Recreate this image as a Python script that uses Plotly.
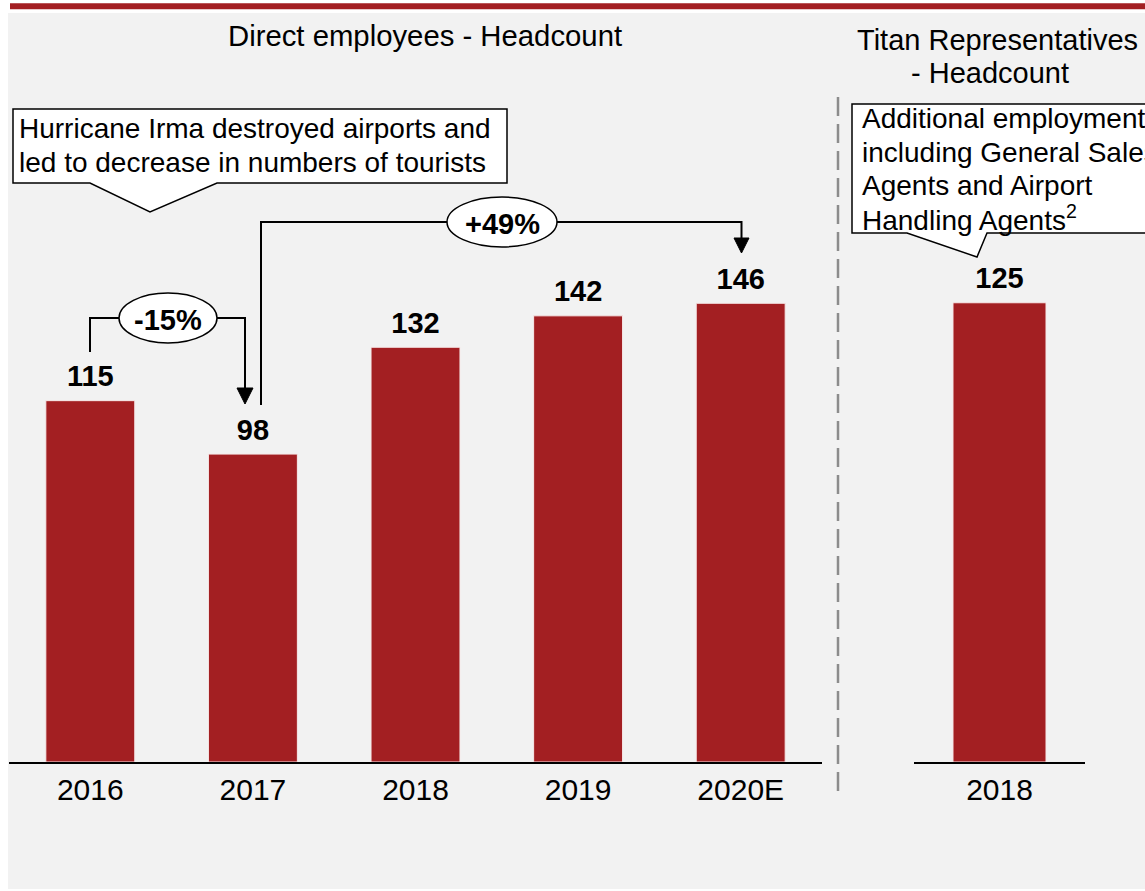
import plotly.graph_objects as go

W, H = 1145, 891

# ---- data ----
direct_years = ["2016", "2017", "2018", "2019", "2020E"]
direct_headcount = [115, 98, 132, 142, 146]
rep_years = ["2018"]
rep_headcount = [125]
change_labels = ["-15%", "+49%"]
panel_titles = ["Direct employees - Headcount", "Titan Representatives", "- Headcount"]
note_irma = ["Hurricane Irma destroyed airports and", "led to decrease in numbers of tourists"]
note_reps = ["Additional employment", "including General Sales", "Agents and Airport",
             "Handling Agents<sup>2</sup>"]


def px(x):
    return x / W


def py(y):
    return 1 - y / H


FONT = "Liberation Sans, Arial, sans-serif"
RED = "#a31f22"
BLACK = "#000000"

fig = go.Figure()
fig.add_trace(go.Bar(
    x=direct_years, y=direct_headcount, width=0.547,
    marker=dict(color=RED, line=dict(color="#f7e9e9", width=1)),
    cliponaxis=False, xaxis="x", yaxis="y", hoverinfo="skip"))
fig.add_trace(go.Bar(
    x=rep_years, y=rep_headcount, width=0.544,
    marker=dict(color=RED, line=dict(color="#f7e9e9", width=1)),
    cliponaxis=False, xaxis="x2", yaxis="y2", hoverinfo="skip"))
# value labels above bars (invisible markers give the offset above the bar top)
for xs, ys, xa, ya in [(direct_years, direct_headcount, "x", "y"), (rep_years, rep_headcount, "x2", "y2")]:
    fig.add_trace(go.Scatter(
        x=xs, y=ys, mode="markers+text", text=[f"<b>{v}</b>" for v in ys],
        marker=dict(size=10, color="rgba(0,0,0,0)"),
        textposition="top center", textfont=dict(size=29, color=BLACK, family=FONT),
        cliponaxis=False, xaxis=xa, yaxis=ya, hoverinfo="skip"))

ydom = [py(762), py(100)]
axis_common = dict(showgrid=False, zeroline=False, showline=True, linecolor=BLACK, linewidth=2,
                   ticks="", tickfont=dict(size=30, color=BLACK, family=FONT), fixedrange=True)
fig.update_layout(
    width=W, height=H, margin=dict(l=0, r=0, t=0, b=0),
    paper_bgcolor="#ffffff", plot_bgcolor="rgba(0,0,0,0)",
    showlegend=False, font=dict(family=FONT, color=BLACK),
    xaxis=dict(domain=[px(9), px(822)], anchor="y", type="category", **axis_common),
    yaxis=dict(domain=ydom, range=[0, 662 / 3.142], visible=False, fixedrange=True),
    xaxis2=dict(domain=[px(914), px(1085)], anchor="y2", type="category", **axis_common),
    yaxis2=dict(domain=ydom, range=[0, 662 / 3.674], visible=False, fixedrange=True),
)

shapes = []
# background panel
shapes.append(dict(type="rect", xref="paper", yref="paper", x0=px(8), x1=px(1146), y0=py(889), y1=py(13),
                   fillcolor="#f2f2f2", line=dict(width=0), layer="below"))
# top red rule
shapes.append(dict(type="rect", xref="paper", yref="paper", x0=px(10), x1=px(1146), y0=py(9.3), y1=py(3.3),
                   fillcolor=RED, line=dict(width=0), layer="below"))
# dashed divider
shapes.append(dict(type="line", xref="paper", yref="paper", x0=px(838), x1=px(838), y0=py(97), y1=py(797),
                   line=dict(color="#8c8c8c", width=2.5, dash="19px,8px")))


def path(points):
    return "M " + " L ".join(f"{px(x)},{py(y)}" for x, y in points)


def pathz(points):
    return path(points) + " Z"


# callout box 1
shapes.append(dict(type="path", xref="paper", yref="paper",
                   path=pathz([(13, 109), (507, 109), (507, 183), (217, 183), (150, 212), (90, 183), (13, 183)]),
                   fillcolor="#ffffff", line=dict(color=BLACK, width=1.5)))
# callout box 2
shapes.append(dict(type="path", xref="paper", yref="paper",
                   path=pathz([(852, 104), (1150, 104), (1150, 233), (987, 233), (977, 257), (907, 233), (852, 233)]),
                   fillcolor="#ffffff", line=dict(color=BLACK, width=1.5)))

# -15% bracket
shapes.append(dict(type="path", xref="paper", yref="paper",
                   path=path([(90, 352), (90, 318), (245, 318), (245, 390)]),
                   line=dict(color=BLACK, width=2)))
shapes.append(dict(type="path", xref="paper", yref="paper",
                   path=pathz([(237, 388), (253, 388), (245, 404)]),
                   fillcolor=BLACK, line=dict(color=BLACK, width=1)))
# +49% bracket
shapes.append(dict(type="path", xref="paper", yref="paper",
                   path=path([(261, 405), (261, 222), (741.5, 222), (741.5, 240)]),
                   line=dict(color=BLACK, width=2)))
shapes.append(dict(type="path", xref="paper", yref="paper",
                   path=pathz([(734, 238), (749, 238), (741.5, 253)]),
                   fillcolor=BLACK, line=dict(color=BLACK, width=1)))
# ellipses
for cx, cy, rx, ry in [(168, 318, 49, 25), (502, 222, 55, 25)]:
    shapes.append(dict(type="circle", xref="paper", yref="paper",
                       x0=px(cx - rx), x1=px(cx + rx), y0=py(cy + ry), y1=py(cy - ry),
                       fillcolor="#ffffff", line=dict(color=BLACK, width=1.5)))

fig.update_layout(shapes=shapes)

ann = []


def text(t, x, y, xanchor="center", bold=False, size=28):
    ann.append(dict(text=f"<b>{t}</b>" if bold else t, x=px(x), y=py(y), xref="paper", yref="paper",
                    xanchor=xanchor, yanchor="middle", showarrow=False,
                    font=dict(size=size, color=BLACK, family=FONT)))


text(panel_titles[0], 425, 35, size=29.3)
text(panel_titles[1], 997, 40, size=29)
text(panel_titles[2], 990, 73, size=29)
for i, line in enumerate(note_irma):
    text(line, 17, 128 + 34 * i, xanchor="left")
for i, line in enumerate(note_reps):
    text(line, 860, 119 + 33 * i, xanchor="left")
text(change_labels[0], 168, 320, bold=True, size=29)
text(change_labels[1], 502, 224, bold=True, size=29)

fig.update_layout(annotations=ann)

fig.write_html("out.html", config={"displayModeBar": False},
               post_script="document.body.style.margin='0';document.body.style.overflow='hidden';")
